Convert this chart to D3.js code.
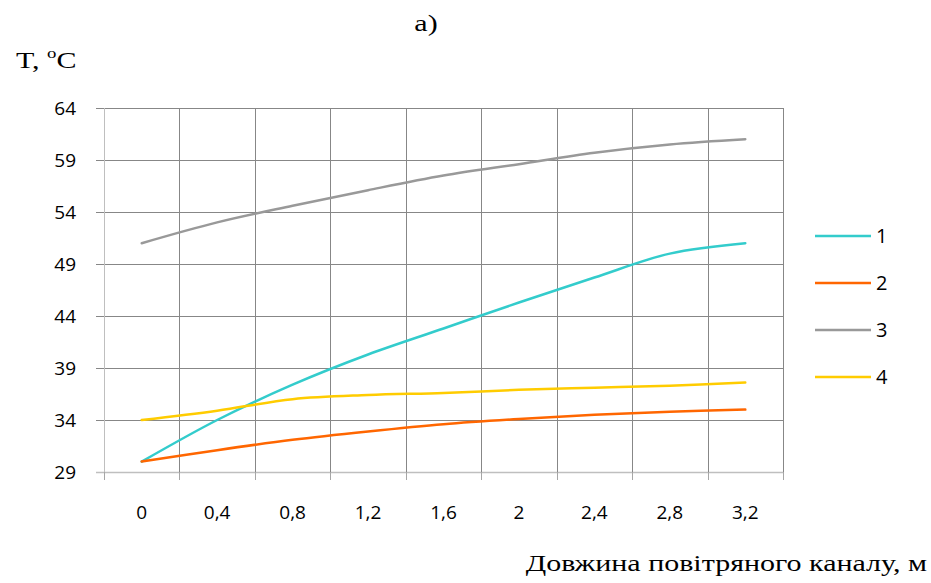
<!DOCTYPE html>
<html lang="uk">
<head>
  <meta charset="UTF-8">
  <title>T vs channel length</title>
  <script src="https://d3js.org/d3.v7.min.js"></script>
  <style>
    body {
      margin: 0;
      background: #ffffff;
    }
    svg {
      display: block;
      background: #ffffff;
    }
    .tick-label {
      font-family: "Open Sans", sans-serif;
      font-size: 19px;
      fill: #000000;
    }
    .serif {
      font-family: "Liberation Serif", "Times New Roman", serif;
      font-size: 24px;
      fill: #000000;
    }
  </style>
</head>
<body>
<script>
  // x categories (довжина каналу, м)
  const categories = ["0", "0,4", "0,8", "1,2", "1,6", "2", "2,4", "2,8", "3,2"];
  const yTicks = [29, 34, 39, 44, 49, 54, 59, 64];

  // series values
  const series1 = [30.0, 34.0, 37.4, 40.3, 42.8, 45.3, 47.7, 50.0, 51.0];
  const series2 = [30.0, 31.1, 32.1, 32.9, 33.6, 34.1, 34.5, 34.8, 35.0];
  const series3 = [51.0, 53.0, 54.6, 56.1, 57.5, 58.6, 59.7, 60.5, 61.0];
  const series4 = [34.0, 34.9, 36.0, 36.4, 36.6, 36.9, 37.1, 37.3, 37.6];
  const seriesNames = ["1", "2", "3", "4"];
  const seriesColors = ["#33CCCC", "#FF6600", "#999999", "#FFCC00"];

  const width = 931;
  const height = 583;
  const plot = { left: 104, right: 783, top: 108, bottom: 472 };
  const stretch = 1.25; // the reference text is wider than it is tall

  const svg = d3.select("body").append("svg")
    .attr("width", width)
    .attr("height", height);

  const x = d3.scaleBand()
    .domain(categories)
    .range([plot.left, plot.right])
    .padding(0);

  const y = d3.scaleLinear()
    .domain([29, 64])
    .range([plot.bottom, plot.top]);

  // horizontal grid + y ticks
  const yAxis = svg.append("g")
    .attr("transform", `translate(${plot.left},0)`)
    .call(d3.axisLeft(y).tickValues(yTicks).tickSize(8).tickPadding(20).tickFormat(d3.format("d")));
  yAxis.select(".domain").remove();
  yAxis.selectAll(".tick line")
    .attr("x2", plot.right - plot.left)
    .attr("x1", -8)
    .attr("stroke", d => d === 29 ? "#bfbfbf" : "#878787")
    .attr("stroke-width", d => d === 29 ? 1.5 : 1);
  yAxis.selectAll(".tick text").attr("class", "tick-label").attr("dy", "0.36em");

  // vertical grid at band edges
  const edges = categories.map(c => x(c)).concat([plot.right]);
  svg.append("g").selectAll("line")
    .data(edges)
    .join("line")
    .attr("x1", d => Math.round(d) + 0.5)
    .attr("x2", d => Math.round(d) + 0.5)
    .attr("y1", plot.top)
    .attr("y2", plot.bottom)
    .attr("stroke", (d, i) => i === 0 ? "#bfbfbf" : "#878787")
    .attr("stroke-width", 1);

  // x ticks below the axis
  svg.append("g").selectAll("line")
    .data(edges)
    .join("line")
    .attr("x1", d => Math.round(d) + 0.5)
    .attr("x2", d => Math.round(d) + 0.5)
    .attr("y1", plot.bottom)
    .attr("y2", plot.bottom + 8)
    .attr("stroke", "#a6a6a6");

  // x labels
  svg.append("g").selectAll("text")
    .data(categories)
    .join("text")
    .attr("class", "tick-label")
    .attr("x", d => x(d) + x.bandwidth() / 2)
    .attr("y", 519)
    .attr("text-anchor", "middle")
    .text(d => d);

  // lines
  const allSeries = [series1, series2, series3, series4];
  const line = d3.line()
    .x((d, i) => x(categories[i]) + x.bandwidth() / 2)
    .y(d => y(d))
    .curve(d3.curveCardinal.tension(0));

  allSeries.forEach((s, i) => {
    svg.append("path")
      .datum(s)
      .attr("fill", "none")
      .attr("stroke", seriesColors[i])
      .attr("stroke-width", 2.5)
      .attr("stroke-linecap", "round")
      .attr("d", line);
  });

  // legend
  const legend = svg.append("g");
  seriesNames.forEach((name, i) => {
    const ly = 236 + i * 47;
    legend.append("line")
      .attr("x1", 815).attr("x2", 871)
      .attr("y1", ly).attr("y2", ly)
      .attr("stroke", seriesColors[i])
      .attr("stroke-width", 2.5);
    legend.append("text")
      .attr("class", "tick-label")
      .attr("x", 876)
      .attr("y", ly + 7)
      .style("font-size", "20px")
      .text(name);
  });

  // titles (stretched horizontally like the reference)
  svg.append("text")
    .attr("class", "serif")
    .attr("transform", `translate(426,31) scale(${stretch},1)`)
    .attr("text-anchor", "middle")
    .text("a)");

  const yt = svg.append("text")
    .attr("class", "serif")
    .attr("transform", `translate(16,68) scale(${stretch},1)`);
  yt.append("tspan").text("T, ");
  yt.append("tspan").attr("dy", -10).style("font-size", "15px").text("o");
  yt.append("tspan").attr("dy", 10).text("C");

  svg.append("text")
    .attr("class", "serif")
    .attr("transform", `translate(927,571) scale(${stretch},1)`)
    .attr("text-anchor", "end")
    .text("Довжина повітряного каналу, м");
</script>
</body>
</html>
